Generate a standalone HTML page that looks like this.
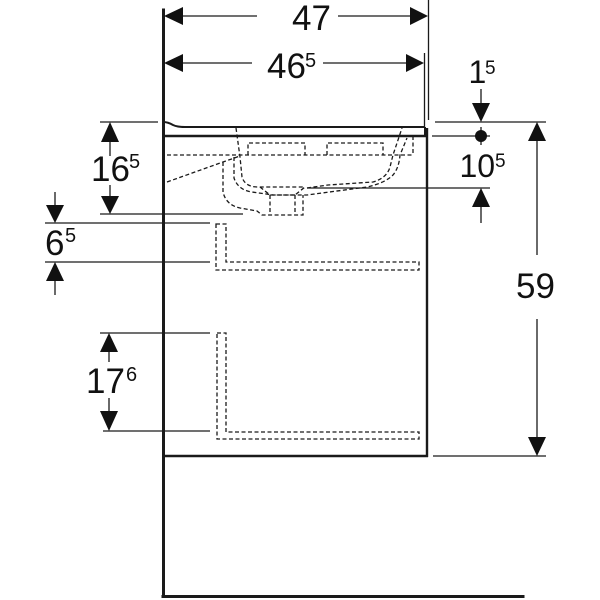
<!DOCTYPE html>
<html>
<head>
<meta charset="utf-8">
<style>
  html, body { margin: 0; padding: 0; background: #fff; }
  svg { display: block; }
  text { font-family: "Liberation Sans", Arial, sans-serif; fill: #111; }
</style>
</head>
<body>
<svg width="600" height="600" viewBox="0 0 600 600" xmlns="http://www.w3.org/2000/svg">
  <rect width="600" height="600" fill="#fff"/>

  <!-- Wall and floor -->
  <g stroke="#1a1a1a" fill="none" stroke-linecap="square">
    <line x1="163.5" y1="10" x2="163.5" y2="596" stroke-width="3"/>
    <line x1="163" y1="596.5" x2="523" y2="596.5" stroke-width="3"/>
  </g>

  <!-- Cabinet -->
  <g stroke="#1a1a1a" fill="none" stroke-width="2.4">
    <line x1="163" y1="136" x2="427" y2="136"/>
    <line x1="427" y1="128" x2="427" y2="457"/>
    <line x1="163" y1="456" x2="428" y2="456"/>
    <path d="M163,122 Q168,122 173,125 Q177,127 185,127 L424,127" stroke-width="2"/>
    <line x1="425" y1="127" x2="425" y2="136" stroke-width="2"/>
  </g>

  <!-- Extension / dimension lines -->
  <g stroke="#1a1a1a" stroke-width="1.3" fill="none">
    <line x1="428.5" y1="0" x2="428.5" y2="120"/>
    <line x1="424.5" y1="53" x2="424.5" y2="127"/>
    <!-- 47 -->
    <line x1="183" y1="16" x2="257" y2="16"/>
    <line x1="338" y1="16" x2="410" y2="16"/>
    <!-- 46.5 -->
    <line x1="183" y1="63" x2="252" y2="63"/>
    <line x1="323" y1="63" x2="406" y2="63"/>
    <!-- 16.5 -->
    <line x1="100" y1="122" x2="158" y2="122"/>
    <line x1="100" y1="214" x2="243" y2="214"/>
    <line x1="110" y1="142" x2="110" y2="156"/>
    <line x1="110" y1="185" x2="110" y2="196"/>
    <!-- 6.5 -->
    <line x1="45" y1="223" x2="210" y2="223"/>
    <line x1="45" y1="262" x2="210" y2="262"/>
    <line x1="55" y1="192" x2="55" y2="205"/>
    <line x1="55" y1="281" x2="55" y2="295"/>
    <!-- 17.6 -->
    <line x1="100" y1="333" x2="210" y2="333"/>
    <line x1="103" y1="431" x2="210" y2="431"/>
    <line x1="109" y1="352" x2="109" y2="362"/>
    <line x1="109" y1="398" x2="109" y2="411"/>
    <!-- 59 -->
    <line x1="435" y1="122" x2="546" y2="122"/>
    <line x1="433" y1="456" x2="546" y2="456"/>
    <line x1="537" y1="141" x2="537" y2="255"/>
    <line x1="537" y1="319" x2="537" y2="437"/>
    <!-- 1.5 / 10.5 -->
    <line x1="481" y1="89" x2="481" y2="103"/>
    <line x1="432" y1="136" x2="490" y2="136"/>
    <line x1="481" y1="127" x2="481" y2="145"/>
    <line x1="307" y1="188" x2="490" y2="188"/>
    <line x1="481" y1="207" x2="481" y2="223"/>
  </g>

  <!-- Arrowheads -->
  <g fill="#111">
    <polygon points="164,16 183,7 183,25"/>
    <polygon points="428,16 410,7 410,25"/>
    <polygon points="164,63 183,54 183,72"/>
    <polygon points="424,63 406,54 406,72"/>
    <polygon points="110,122 101,142 119,142"/>
    <polygon points="110,214 101,196 119,196"/>
    <polygon points="55,223 46,205 64,205"/>
    <polygon points="55,262 46,281 64,281"/>
    <polygon points="109,333 100,352 118,352"/>
    <polygon points="109,431 100,411 118,411"/>
    <polygon points="537,122 528,141 546,141"/>
    <polygon points="537,456 528,437 546,437"/>
    <polygon points="481,122 472,103 490,103"/>
    <polygon points="481,188 472,207 490,207"/>
    <circle cx="481" cy="136" r="6"/>
  </g>

  <!-- Dashed hidden lines -->
  <g stroke="#1a1a1a" stroke-width="1.3" fill="none" stroke-dasharray="4 2.5">
    <path d="M167,155 L412,155"/>
    <path d="M413,136 L413,155"/>
    <path d="M248,155 L248,143 L305,143 L305,155"/>
    <path d="M327,155 L327,143 L383,143 L383,155"/>
    <!-- inner bowl -->
    <path d="M236,128 L240,157 L242,177 Q245,187 258,187 L305,187"/>
    <path d="M307,188 L328,185 L373,182 Q387,178 390,167 L393,155 L402,128"/>
    <path d="M260,187 L270,195 L295,195 L305,187"/>
    <!-- outer bowl -->
    <path d="M234,157 L234,178 Q238,190 252,192 L273,195 L307,195 L367,187 Q385,183 393,175 Q399,168 400,155 L407,138"/>
    <!-- siphon -->
    <path d="M223,162 L223,192 Q226,205 240,208 L257,211 L262,215 L303,215 L303,195"/>
    <path d="M270,195 L270,212"/>
    <path d="M295,195 L295,215"/>
    <!-- slanted left -->
    <path d="M167,182 L223,162 L240,156"/>
    <!-- drawer L-shapes -->
    <path d="M216,224 L226,224 L226,262 L419,262 L419,270 L216,270 Z"/>
    <path d="M217,333 L226,333 L226,432 L419,432 L419,439 L217,439 Z"/>
  </g>

  <!-- Labels -->
  <g>
    <text x="292" y="30" font-size="35">47</text>
    <text x="267" y="78" font-size="35">46</text>
    <text x="305" y="67" font-size="20">5</text>

    <text x="91" y="181" font-size="35">16</text>
    <text x="129" y="168" font-size="20">5</text>

    <text x="45" y="255" font-size="35">6</text>
    <text x="65" y="242" font-size="20">5</text>

    <text x="86" y="393" font-size="35">17</text>
    <text x="126" y="381" font-size="20">6</text>

    <text x="468.5" y="83" font-size="32">1</text>
    <text x="485" y="74" font-size="19">5</text>

    <text x="459.5" y="177" font-size="32">10</text>
    <text x="495" y="167" font-size="19">5</text>

    <text x="516" y="298" font-size="35">59</text>
  </g>
</svg>
</body>
</html>
